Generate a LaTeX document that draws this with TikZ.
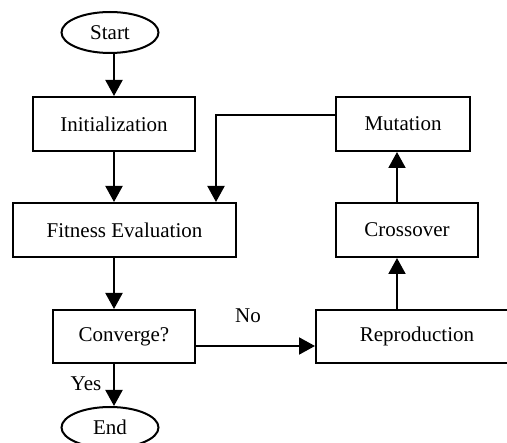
\documentclass[tikz,border=0pt]{standalone}
\usepackage{fontspec}
\setmainfont{Liberation Serif}
\usetikzlibrary{shapes.geometric,arrows.meta,calc}
\begin{document}
\begin{tikzpicture}[x=1pt,y=-1pt,
  every node/.style={font=\fontsize{21}{25}\selectfont},
  box/.style={draw,line width=2pt,rectangle,inner sep=0pt,minimum height=54pt},
  term/.style={draw,line width=2pt,ellipse,inner sep=0pt,minimum width=97pt,minimum height=41pt},
  arr/.style={line width=2pt,-{Triangle[width=17pt,length=16pt]}},
  link/.style={line width=2pt}]
\useasboundingbox (0,0) rectangle (507,443);
% left column
\node[term] (start) at (110,32.5) {Start};
\node[box,minimum width=162pt] (init) at (114,124) {Initialization};
\node[box,minimum width=223pt] (fit) at (124.5,230) {Fitness Evaluation};
\node[box,minimum width=142pt,minimum height=53pt] (conv) at (124,336.5) {Converge?};
\node[term] (end) at (110,427.5) {End};
% right column
\node[box,minimum width=134pt] (mut) at (403,124) {Mutation};
\node[box,minimum width=142pt] (cross) at (407,230) {Crossover};
\node[box,minimum width=202pt,minimum height=53pt] (repro) at (417,336.5) {Reproduction};
% helper points for the connector lines
\coordinate (colx) at (397,0);
\coordinate (fb) at (216,115);
\coordinate (no) at ($(conv.east)+(0,9.5)$);
% main flow
\draw[arr] (start.south -| init.north) -- (init.north);
\draw[arr] (init.south) -- (init.south |- fit.north);
\draw[arr] (fit.south -| init.south) -- (conv.north -| init.south);
\draw[arr] (conv.south -| init.south) -- (end.north -| init.south);
\node[anchor=center] (yes) at (86,384) {Yes};
% loop back through the genetic operators
\draw[arr] (no) -- (no -| repro.west);
\node[anchor=center] (nolabel) at (248,316) {No};
\draw[arr] (repro.north -| colx) -- (cross.south -| colx);
\draw[arr] (cross.north -| colx) -- (mut.south -| colx);
\draw[arr] (mut.west |- fb) -- (fb) -- (fb |- fit.north);
\end{tikzpicture}
\end{document}
